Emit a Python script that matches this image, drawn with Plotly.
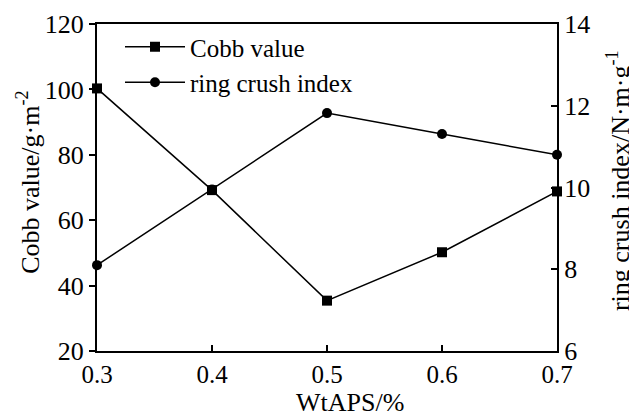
import plotly.graph_objects as go

x_wtaps = [0.3, 0.4, 0.5, 0.6, 0.7]
cobb_value = [100.3, 69.2, 35.4, 50.2, 68.8]
ring_crush_index = [8.1, 9.95, 11.82, 11.31, 10.8]
x_ticks = [0.3, 0.4, 0.5, 0.6, 0.7]
left_ticks = [20, 40, 60, 80, 100, 120]
right_ticks = [6, 8, 10, 12, 14]
x_title = "WtAPS/%"
left_title = "Cobb value/g·m<sup>-2</sup>"
right_title = "ring crush index/N·m·g<sup>-1</sup>"

FONT = "Liberation Serif"
BLACK = "#000000"

fig = go.Figure()
fig.add_trace(go.Scatter(
    x=x_wtaps, y=cobb_value, name="Cobb value", mode="lines+markers",
    line=dict(color=BLACK, width=1.5),
    marker=dict(symbol="square", size=10, color=BLACK),
    cliponaxis=False, yaxis="y"))
fig.add_trace(go.Scatter(
    x=x_wtaps, y=ring_crush_index, name="ring crush index", mode="lines+markers",
    line=dict(color=BLACK, width=1.5),
    marker=dict(symbol="circle", size=10, color=BLACK),
    cliponaxis=False, yaxis="y2"))

axis_common = dict(tickwidth=1.5, tickcolor=BLACK, ticklen=6,
                   showline=True, linecolor=BLACK, linewidth=2,
                   showgrid=False, zeroline=False, automargin=False)

# page body adds an 8px offset, so the figure is 8px smaller and margins shifted
fig.update_layout(
    width=629, height=408,
    margin=dict(l=89, r=80, t=16, b=65, autoexpand=False),
    paper_bgcolor="white", plot_bgcolor="white",
    font=dict(family=FONT, size=26, color=BLACK),
    showlegend=True,
    legend=dict(x=0.05, y=1.0, xanchor="left", yanchor="top",
                bgcolor="rgba(0,0,0,0)", itemwidth=60,
                font=dict(family=FONT, size=25, color=BLACK), tracegroupgap=0),
    xaxis=dict(range=[0.3, 0.7], tickvals=x_ticks, ticktext=[f"{v:.1f}" for v in x_ticks],
               ticks="inside", mirror=True,
               tickfont=dict(family=FONT, size=25, color=BLACK), **axis_common),
    yaxis=dict(range=[20, 120], tickvals=left_ticks, ticks="outside",
               tickfont=dict(family=FONT, size=26, color=BLACK), **axis_common),
    yaxis2=dict(range=[6, 14], tickvals=right_ticks, overlaying="y", side="right",
                ticks="inside",
                tickfont=dict(family=FONT, size=26, color=BLACK), **axis_common),
    annotations=[
        dict(text=x_title, xref="paper", yref="paper", x=0.55, y=-0.159,
             xanchor="center", yanchor="middle", showarrow=False,
             font=dict(family=FONT, size=26, color=BLACK)),
        dict(text=left_title, xref="paper", yref="paper", x=-0.148, y=0.517,
             xanchor="center", yanchor="middle", showarrow=False, textangle=-90,
             font=dict(family=FONT, size=26, color=BLACK)),
        dict(text=right_title, xref="paper", yref="paper", x=1.135, y=0.52,
             xanchor="center", yanchor="middle", showarrow=False, textangle=-90,
             font=dict(family=FONT, size=26, color=BLACK)),
    ],
)

fig.write_html("out.html")
